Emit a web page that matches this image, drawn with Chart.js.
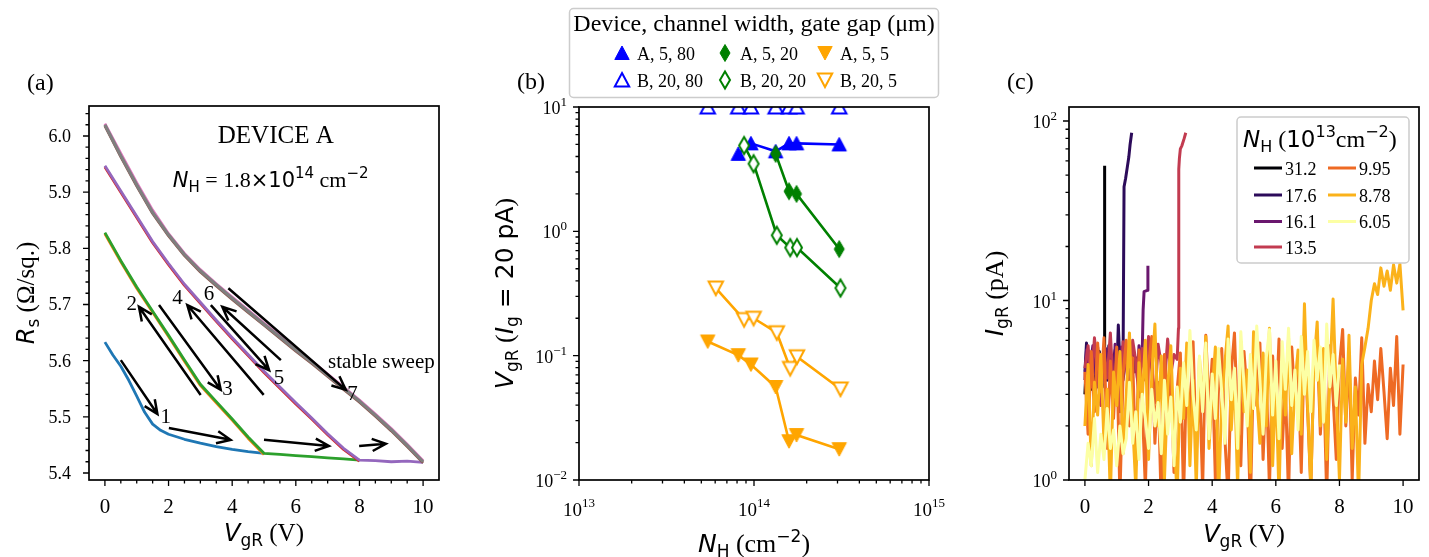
<!DOCTYPE html>
<html>
<head>
<meta charset="utf-8">
<script src="https://cdn.jsdelivr.net/npm/chart.js@4.4.1/dist/chart.umd.min.js"></script>
<style>
  html, body { margin: 0; padding: 0; background: #fff; }
  #wrap { position: relative; width: 1429px; height: 557px; overflow: hidden; background: #fff; }
  canvas { position: absolute; top: 0; }
</style>
</head>
<body>
<div id="wrap">
  <canvas id="ca" width="470" height="557" style="left:0px;width:470px;height:557px"></canvas>
  <canvas id="cb" width="490" height="557" style="left:470px;width:490px;height:557px"></canvas>
  <canvas id="cc" width="469" height="557" style="left:960px;width:469px;height:557px"></canvas>
</div>
<script>
// ---------- panel (a): R_s vs V_gR sweeps, device A ----------
const vBlue = [0, 0.25, 0.5, 0.75, 1, 1.25, 1.5, 1.75, 2, 2.5, 3, 3.5, 4, 4.5, 5];
const rBlue = [5.633, 5.61, 5.59, 5.565, 5.537, 5.508, 5.487, 5.476, 5.469, 5.46, 5.453, 5.447, 5.442, 5.438, 5.435];
const vOrange = [5, 4.5, 4, 3.5, 3, 2.5, 2, 1.5, 1, 0.5, 0];
const rOrange = [5.433, 5.462, 5.494, 5.525, 5.556, 5.599, 5.643, 5.686, 5.729, 5.776, 5.826];
const vGreen = [0, 0.5, 1, 1.5, 2, 2.5, 3, 3.5, 4, 4.5, 5, 5.5, 6, 6.5, 7, 7.5, 8];
const rGreen = [5.828, 5.778, 5.731, 5.688, 5.645, 5.601, 5.558, 5.527, 5.496, 5.464, 5.435, 5.433, 5.431, 5.429, 5.427, 5.425, 5.423];
const vRed = [8, 7.5, 7, 6.5, 6, 5.5, 5, 4.5, 4, 3.5, 3, 2.5, 2, 1.5, 1, 0.5, 0];
const rRed = [5.421, 5.442, 5.468, 5.496, 5.523, 5.551, 5.579, 5.609, 5.639, 5.67, 5.702, 5.734, 5.771, 5.81, 5.855, 5.9, 5.945];
const vPurple = [0, 0.5, 1, 1.5, 2, 2.5, 3, 3.5, 4, 4.5, 5, 5.5, 6, 6.5, 7, 7.5, 8, 8.5, 9, 9.5, 10];
const rPurple = [5.947, 5.902, 5.857, 5.812, 5.773, 5.736, 5.704, 5.672, 5.641, 5.611, 5.581, 5.553, 5.525, 5.498, 5.47, 5.444, 5.423, 5.422, 5.42, 5.421, 5.419];
const vBrown = [10, 9.5, 9, 8.5, 8, 7.5, 7, 6.5, 6, 5.5, 5, 4.5, 4, 3.5, 3, 2.5, 2, 1.5, 1, 0.5, 0];
const rBrown = [5.418, 5.447, 5.475, 5.501, 5.526, 5.549, 5.572, 5.595, 5.617, 5.64, 5.663, 5.686, 5.709, 5.733, 5.758, 5.787, 5.822, 5.862, 5.911, 5.963, 6.018];
const vPink = [0, 0.5, 1, 1.5, 2, 2.5, 3, 3.5, 4, 4.5, 5, 5.5, 6, 6.5, 7, 7.5, 8, 8.5, 9, 9.5, 10];
const rPink = [6.022, 5.969, 5.917, 5.868, 5.826, 5.791, 5.762, 5.737, 5.713, 5.69, 5.667, 5.644, 5.621, 5.599, 5.576, 5.553, 5.53, 5.505, 5.479, 5.451, 5.422];
const vGray = [10, 9.5, 9, 8.5, 8, 7.5, 7, 6.5, 6, 5.5, 5, 4.5, 4, 3.5, 3, 2.5, 2, 1.5, 1, 0.5, 0];
const rGray = [5.42, 5.449, 5.477, 5.503, 5.528, 5.551, 5.574, 5.597, 5.619, 5.642, 5.665, 5.688, 5.711, 5.735, 5.76, 5.789, 5.824, 5.864, 5.913, 5.965, 6.02];

// sweep arrows (data coordinates) and their numbers
const arrowFrom = [[0.50, 5.601], [3.01, 5.539], [1.70, 5.699], [4.99, 5.539], [3.33, 5.699], [5.53, 5.601], [3.88, 5.729], [2.01, 5.480], [5.0, 5.459], [7.99, 5.448]];
const arrowTo = [[1.65, 5.505], [1.07, 5.696], [3.64, 5.548], [2.59, 5.699], [5.16, 5.583], [3.69, 5.696], [7.57, 5.548], [3.95, 5.459], [7.04, 5.448], [8.83, 5.452]];
const sweepNames = ['1', '2', '3', '4', '5', '6', '7'];
const sweepV = [1.91, 0.84, 3.85, 2.28, 5.47, 3.27, 7.78];
const sweepR = [5.501, 5.702, 5.551, 5.714, 5.57, 5.72, 5.542];

// ---------- panel (b): V_gR at I_g = 20 pA vs N_H ----------
const nhA = [5.44e13, 8.13e13, 9.6e13, 1.33e14, 1.585e14, 1.75e14, 3.07e14];
const nhB = [6.05e13, 8.78e13, 9.95e13, 1.35e14, 1.61e14, 1.76e14, 3.12e14];
const vA80 = [null, 4.2, 5.1, 4.4, 5.1, 5.1, 5.0];
const vB80 = [10, 10, 10, 10, 10, 10, 10];
const vA20 = [null, null, null, 4.2, 2.1, 2.0, 0.72];
const vB20 = [null, 4.9, 3.5, 0.93, 0.74, 0.74, 0.35];
const vA5 = [0.13, 0.101, 0.085, 0.056, 0.0205, 0.023, 0.0177];
const vB5 = [0.35, 0.195, 0.2, 0.153, 0.079, 0.098, 0.054];
const legendB = ['A, 5, 80', 'A, 5, 20', 'A, 5, 5', 'B, 20, 80', 'B, 20, 20', 'B, 20, 5'];

// ---------- panel (c): I_gR vs V_gR for several N_H ----------
const nhLabels = ['31.2', '17.6', '16.1', '13.5', '9.95', '8.78', '6.05'];
const vC = [0,0.1,0.2,0.3,0.4,0.5,0.6,0.7,0.8,0.9,1,1.1,1.2,1.3,1.4,1.5,1.6,1.7,1.8,1.9,2,2.1,2.2,2.3,2.4,2.5,2.6,2.7,2.8,2.9,3,3.1,3.2,3.3,3.4,3.5,3.6,3.7,3.8,3.9,4,4.1,4.2,4.3,4.4,4.5,4.6,4.7,4.8,4.9,5,5.1,5.2,5.3,5.4,5.5,5.6,5.7,5.8,5.9,6,6.1,6.2,6.3,6.4,6.5,6.6,6.7,6.8,6.9,7,7.1,7.2,7.3,7.4,7.5,7.6,7.7,7.8,7.9,8,8.1,8.2,8.3,8.4,8.5,8.6,8.7,8.8,8.9,9,9.1,9.2,9.3,9.4,9.5,9.6,9.7,9.8,9.9,10];
const v312 = [0, 0.05, 0.1, 0.15, 0.2, 0.25, 0.3, 0.35, 0.4, 0.45, 0.5, 0.55, 0.6, 0.62];
const i312 = [3.0, 4.9, 3.6, 4.4, 3.2, 5.0, 3.8, 4.6, 3.4, 5.2, 4.1, 3.5, 4.8, 56.4];
const v176 = [0, 0.05, 0.1, 0.15, 0.2, 0.25, 0.3, 0.35, 0.4, 0.45, 0.5, 0.55, 0.6, 0.65, 0.7, 0.75, 0.8, 0.85, 0.9, 0.95, 1, 1.05, 1.1, 1.15, 1.2, 1.23, 1.28, 1.33, 1.38, 1.42, 1.47];
const i176 = [4.0, 5.8, 3.4, 4.6, 3.9, 5.2, 3.1, 4.4, 5.5, 3.7, 4.9, 3.3, 5.0, 4.2, 3.6, 5.6, 4.1, 3.5, 4.7, 5.3, 3.8, 7.3, 4.5, 3.6, 4.9, 43, 48, 55, 63, 74, 86];
const v161 = [0, 0.05, 0.1, 0.15, 0.2, 0.25, 0.3, 0.35, 0.4, 0.45, 0.5, 0.55, 0.6, 0.65, 0.7, 0.75, 0.8, 0.85, 0.9, 0.95, 1, 1.05, 1.1, 1.15, 1.2, 1.25, 1.3, 1.35, 1.4, 1.45, 1.5, 1.55, 1.6, 1.65, 1.7, 1.75, 1.8, 1.83, 1.86, 1.96, 1.98];
const i161 = [3.6, 5.3, 4.1, 3.2, 4.8, 5.6, 3.9, 4.4, 3.3, 5.1, 4.0, 4.7, 3.5, 5.4, 4.2, 3.7, 5.0, 4.5, 3.4, 5.7, 4.1, 3.8, 4.9, 5.5, 3.6, 4.3, 5.2, 3.9, 4.6, 3.4, 5.3, 4.0, 4.8, 3.7, 5.6, 4.4, 5.0, 8.9, 11.2, 11.4, 15.6];
const v135 = [0, 0.1, 0.2, 0.3, 0.4, 0.5, 0.6, 0.7, 0.8, 0.9, 1, 1.1, 1.2, 1.3, 1.4, 1.5, 1.6, 1.7, 1.8, 1.9, 2, 2.1, 2.2, 2.3, 2.4, 2.5, 2.6, 2.7, 2.8, 2.9, 2.94, 2.95, 2.97, 3.0, 3.05, 3.12, 3.17];
const i135 = [4.2, 5.6, 3.3, 6.2, 4.0, 2.6, 5.1, 3.7, 6.6, 3.0, 4.8, 2.4, 5.9, 4.3, 3.2, 6.0, 4.6, 2.9, 5.4, 3.6, 6.3, 4.1, 2.7, 5.7, 4.4, 3.4, 6.1, 3.9, 5.0, 4.7, 7.0, 54, 62, 70, 73, 80, 86];
const i995 = [4.0,1.8,5.2,2.4,5.8,3.1,6.2,1.5,4.6,2.2,
  5.5,0.8,3.9,6.0,2.0,4.8,1.2,5.3,2.7,0.9,
  4.4,6.3,1.6,3.5,0.7,5.0,2.3,4.1,1.1,3.2,
  5.1,0.8,4.3,2.0,5.9,1.4,3.6,0.9,6.4,2.5,
  4.7,1.0,3.3,5.4,1.7,0.8,4.0,6.6,2.1,1.2,
  5.2,3.0,0.7,4.5,2.6,5.8,1.3,3.8,0.9,4.9,
  2.2,6.1,1.5,3.4,0.8,5.5,2.8,4.2,1.1,6.4,
  2.4,0.9,4.6,6.0,1.8,3.9,0.8,5.6,2.9,1.3,
  4.3,6.9,2.0,5.1,1.0,3.7,2.3,6.2,1.6,3.4,
  2.4,4.6,2.8,5.4,3.1,1.7,4.2,2.6,6.3,1.8,4.4];
const i878 = [2.0,4.4,1.2,3.5,2.3,5.0,1.6,3.2,0.8,4.0,
  2.6,5.2,1.4,3.0,6.6,2.1,0.9,4.5,2.8,6.0,
  1.3,3.8,7.4,2.0,4.9,1.0,3.3,5.6,1.8,0.8,
  4.2,2.2,5.8,1.2,3.6,0.9,4.8,2.5,6.3,1.5,
  3.1,5.5,0.8,2.7,4.5,7.2,1.9,3.9,0.9,5.9,
  2.4,4.1,1.1,6.7,3.0,1.6,5.1,2.0,7.0,1.2,
  3.7,0.8,4.6,2.3,6.2,1.4,3.4,5.3,1.8,9.6,
  2.6,0.9,4.4,7.6,2.0,5.4,1.3,3.8,10.2,2.9,
  1.0,4.7,2.1,6.4,1.5,3.3,0.8,4.4,5.5,7.0,
  10.0,12.4,10.8,15.2,12.0,14.6,11.4,15.8,12.5,16.0,8.8];
const i605 = [1.0,1.6,1.2,2.2,1.1,1.8,1.3,2.5,1.5,1.9,
  1.2,2.0,1.4,1.7,3.5,1.6,2.4,1.3,3.0,2.2,
  1.5,3.2,2.0,2.7,1.4,3.6,1.8,2.9,1.2,3.3,
  2.1,4.5,2.6,6.8,3.0,1.9,4.9,2.4,5.8,1.7,
  3.9,2.2,5.4,3.1,1.6,6.1,2.8,4.2,1.5,6.7,
  3.4,2.0,5.0,2.5,7.2,3.6,1.8,4.8,6.9,2.3,
  4.6,1.7,5.9,3.2,7.0,2.6,4.1,1.9,6.3,3.0,
  5.2,2.4,6.0,3.6,5.5,2.1,7.4,3.3,5.0,2.6,4.4];
const nhColors = ['#000004', '#2c0b5a', '#6a176e', '#c23b50', '#ee6a24', '#fbb21a', '#fcffa4'];

// ---------- drawing helpers ----------
const SERIF = '"Liberation Serif", "Times New Roman", serif';
const SANS = '"DejaVu Sans", sans-serif';

function P(t, s, f, it, dy) { return { t: t, s: s, f: f, it: !!it, dy: dy || 0 }; }
function fnt(p) { return (p.it ? 'italic ' : '') + p.s + 'px ' + p.f; }
function rich(ctx, parts, x, y, align) {
  let w = 0;
  parts.forEach(p => { ctx.font = fnt(p); w += ctx.measureText(p.t).width; });
  let cx = align === 'center' ? x - w / 2 : (align === 'right' ? x - w : x);
  ctx.textAlign = 'left';
  ctx.textBaseline = 'alphabetic';
  parts.forEach(p => {
    ctx.font = fnt(p);
    ctx.fillText(p.t, cx, y + p.dy);
    cx += ctx.measureText(p.t).width;
  });
}
function richRot(ctx, parts, x, y) {
  ctx.save();
  ctx.translate(x, y);
  ctx.rotate(-Math.PI / 2);
  rich(ctx, parts, 0, 0, 'center');
  ctx.restore();
}
function pts(xs, ys) { return ys.map((y, i) => ({ x: xs[i], y: y })); }

function frame(ctx, a) {
  ctx.save();
  ctx.strokeStyle = '#000';
  ctx.lineWidth = 1.7;
  ctx.strokeRect(a.left, a.top, a.right - a.left, a.bottom - a.top);
  ctx.restore();
}
function ticksX(ctx, ch, vals, len) {
  const a = ch.chartArea, s = ch.scales.x;
  ctx.beginPath();
  vals.forEach(v => {
    const p = s.getPixelForValue(v);
    if (p < a.left - 0.5 || p > a.right + 0.5) return;
    ctx.moveTo(p, a.bottom); ctx.lineTo(p, a.bottom + len);
  });
  ctx.stroke();
}
function ticksY(ctx, ch, vals, len) {
  const a = ch.chartArea, s = ch.scales.y;
  ctx.beginPath();
  vals.forEach(v => {
    const p = s.getPixelForValue(v);
    if (p < a.top - 0.5 || p > a.bottom + 0.5) return;
    ctx.moveTo(a.left, p); ctx.lineTo(a.left - len, p);
  });
  ctx.stroke();
}
function logMinor(d0, d1) {
  const out = [];
  for (let d = d0; d <= d1; d++) for (let k = 2; k <= 9; k++) out.push(k * Math.pow(10, d));
  return out;
}
function arrow(ctx, x1, y1, x2, y2) {
  const ang = Math.atan2(y2 - y1, x2 - x1), L = 15, w = 0.42;
  ctx.beginPath();
  ctx.moveTo(x1, y1); ctx.lineTo(x2, y2);
  ctx.moveTo(x2 - L * Math.cos(ang - w), y2 - L * Math.sin(ang - w));
  ctx.lineTo(x2, y2);
  ctx.lineTo(x2 - L * Math.cos(ang + w), y2 - L * Math.sin(ang + w));
  ctx.stroke();
}
function makeMarker(shape, color, filled) {
  const c = document.createElement('canvas');
  c.width = 24; c.height = 24;
  const g = c.getContext('2d');
  g.beginPath();
  if (shape === 'up') { g.moveTo(12, 5); g.lineTo(19.2, 18.5); g.lineTo(4.8, 18.5); }
  else if (shape === 'down') { g.moveTo(4.8, 5.5); g.lineTo(19.2, 5.5); g.lineTo(12, 19); }
  else { g.moveTo(12, 3.5); g.lineTo(17, 12); g.lineTo(12, 20.5); g.lineTo(7, 12); }
  g.closePath();
  g.lineJoin = 'miter';
  if (filled) {
    g.fillStyle = color; g.fill();
    g.strokeStyle = color; g.lineWidth = 1; g.stroke();
  } else {
    g.fillStyle = '#fff'; g.fill();
    g.strokeStyle = color; g.lineWidth = 2; g.stroke();
  }
  return c;
}
function logLabelsY(ctx, ch, vals, exps) {
  const a = ch.chartArea, s = ch.scales.y;
  ctx.fillStyle = '#000';
  vals.forEach((v, i) => {
    const p = s.getPixelForValue(v);
    rich(ctx, [P('10', 18, SERIF), P(exps[i], 13, SERIF, false, -8)], a.left - 12, p + 7, 'right');
  });
}
function logLabelsX(ctx, ch, vals, exps) {
  const s = ch.scales.x;
  ctx.fillStyle = '#000';
  vals.forEach((v, i) => {
    const p = s.getPixelForValue(v);
    rich(ctx, [P('10', 19, SERIF), P(exps[i], 13, SERIF, false, -9)], p, 516, 'center');
  });
}
function linLabelsX(ctx, ch, vals) {
  const s = ch.scales.x;
  ctx.fillStyle = '#000';
  ctx.font = '21px ' + SERIF;
  ctx.textAlign = 'center';
  ctx.textBaseline = 'alphabetic';
  vals.forEach(v => ctx.fillText(String(v), s.getPixelForValue(v), 513));
}

const baseOpts = (pad) => ({
  responsive: false,
  maintainAspectRatio: false,
  animation: false,
  events: [],
  layout: { padding: pad },
  plugins: { legend: { display: false }, tooltip: { enabled: false }, title: { display: false } }
});
function line(data, color, width, order) {
  return { data: data, borderColor: color, backgroundColor: color, borderWidth: width, pointRadius: 0,
    tension: 0, fill: false, clip: 0, order: order, borderJoinStyle: 'round' };
}

// ---------- chart (a) ----------
const panelA = {
  id: 'panelA',
  afterDatasetsDraw(ch) {
    const ctx = ch.ctx, a = ch.chartArea, xs = ch.scales.x, ys = ch.scales.y;
    ctx.save();
    ctx.strokeStyle = '#000';
    ctx.lineWidth = 2.5;
    ctx.lineCap = 'butt';
    arrowFrom.forEach((f, i) => {
      const t = arrowTo[i];
      arrow(ctx, xs.getPixelForValue(f[0]), ys.getPixelForValue(f[1]), xs.getPixelForValue(t[0]), ys.getPixelForValue(t[1]));
    });
    ctx.fillStyle = '#000';
    ctx.font = '21px ' + SERIF;
    ctx.textAlign = 'center';
    ctx.textBaseline = 'alphabetic';
    sweepNames.forEach((n, i) => ctx.fillText(n, xs.getPixelForValue(sweepV[i]), ys.getPixelForValue(sweepR[i]) + 7));
    ctx.font = '21px ' + SERIF;
    ctx.fillText('stable sweep', xs.getPixelForValue(8.69), ys.getPixelForValue(5.598) + 6);
    ctx.font = '25px ' + SERIF;
    ctx.fillText('DEVICE A', xs.getPixelForValue(5.37), ys.getPixelForValue(6.003) + 8.5);
    rich(ctx, [P('N', 21, SANS, true), P('H', 15, SANS, false, 5), P(' = 1.8', 22, SERIF), P('\u00d710', 21, SANS),
      P('14', 15, SANS, false, -9), P(' cm', 22, SERIF), P('\u22122', 15, SANS, false, -9)],
      xs.getPixelForValue(5.21), ys.getPixelForValue(5.923) + 8, 'center');

    frame(ctx, a);
    ctx.strokeStyle = '#000';
    ctx.lineWidth = 1.3;
    const xMaj = [0, 2, 4, 6, 8, 10], xMin = [], yMaj = [5.4, 5.5, 5.6, 5.7, 5.8, 5.9, 6.0], yMin = [];
    for (let k = 1; k <= 20; k++) if (k % 4 !== 0) xMin.push(k * 0.5);
    for (let k = 0; k <= 32; k++) if (k % 5 !== 0) yMin.push(5.4 + k * 0.02);
    ticksX(ctx, ch, xMaj, 6); ticksX(ctx, ch, xMin, 3.5);
    ticksY(ctx, ch, yMaj, 6); ticksY(ctx, ch, yMin, 3.5);
    linLabelsX(ctx, ch, xMaj);
    ctx.font = '18px ' + SERIF;
    ctx.textAlign = 'right';
    yMaj.forEach(v => ctx.fillText(v.toFixed(1), a.left - 18, ys.getPixelForValue(v) + 6));

    richRot(ctx, [P('R', 24, SANS, true), P('s', 17, SANS, false, 5), P(' (\u03a9/sq.)', 25, SERIF)], 34, (a.top + a.bottom) / 2);
    rich(ctx, [P('V', 24, SANS, true), P('gR', 17, SANS, false, 5), P(' (V)', 25, SERIF)], (a.left + a.right) / 2, 541, 'center');
    ctx.font = '24px ' + SERIF;
    ctx.textAlign = 'left';
    ctx.fillText('(a)', 27, 90);
    ctx.restore();
  }
};

new Chart(document.getElementById('ca'), {
  type: 'line',
  data: {
    datasets: [
      line(pts(vBlue, rBlue), '#1f77b4', 2.8, 8),
      line(pts(vOrange, rOrange), '#ff7f0e', 2.8, 7),
      line(pts(vGreen, rGreen), '#2ca02c', 2.8, 6),
      line(pts(vRed, rRed), '#d62728', 2.8, 5),
      line(pts(vPurple, rPurple), '#9467bd', 2.8, 4),
      line(pts(vBrown, rBrown), '#8c564b', 2.8, 3),
      line(pts(vPink, rPink), '#e377c2', 2.8, 2),
      line(pts(vGray, rGray), '#7f7f7f', 3.2, 1)
    ]
  },
  options: Object.assign(baseOpts({ left: 89, top: 106, right: 31, bottom: 77 }), {
    scales: {
      x: { type: 'linear', min: -0.5, max: 10.5, display: false },
      y: { type: 'linear', min: 5.3875, max: 6.0534, display: false }
    }
  }),
  plugins: [panelA]
});

// ---------- chart (b) ----------
const mk = {
  a80: makeMarker('up', '#0000ff', true), b80: makeMarker('up', '#0000ff', false),
  a20: makeMarker('diamond', '#008000', true), b20: makeMarker('diamond', '#008000', false),
  a5: makeMarker('down', '#ffa500', true), b5: makeMarker('down', '#ffa500', false)
};
function markerSet(data, color, marker, showLine, order) {
  return { data: data, borderColor: color, backgroundColor: color, borderWidth: 2.6, showLine: showLine,
    pointStyle: marker, pointRadius: 7, tension: 0, clip: 0, order: order, spanGaps: false };
}
const panelB = {
  id: 'panelB',
  afterDraw(ch) {
    const ctx = ch.ctx, a = ch.chartArea;
    ctx.save();
    frame(ctx, a);
    ctx.strokeStyle = '#000';
    ctx.lineWidth = 1.3;
    ticksX(ctx, ch, [1e13, 1e14, 1e15], 6); ticksX(ctx, ch, logMinor(13, 14), 3.5);
    ticksY(ctx, ch, [0.01, 0.1, 1, 10], 6); ticksY(ctx, ch, logMinor(-2, 0), 3.5);
    logLabelsX(ctx, ch, [1e13, 1e14, 1e15], ['13', '14', '15']);
    logLabelsY(ctx, ch, [10, 1, 0.1, 0.01], ['1', '0', '\u22121', '\u22122']);
    richRot(ctx, [P('V', 25, SANS, true), P('gR', 17, SANS, false, 5), P(' (', 26, SERIF), P('I', 25, SANS, true),
      P('g', 17, SANS, false, 5), P(' = 20 pA', 25, SANS), P(')', 26, SERIF)], 43, (a.top + a.bottom) / 2);
    rich(ctx, [P('N', 25, SANS, true), P('H', 17, SANS, false, 5), P(' (cm', 26, SERIF), P('\u22122', 17, SANS, false, -10),
      P(')', 26, SERIF)], (a.left + a.right) / 2, 552, 'center');
    ctx.fillStyle = '#000';
    ctx.font = '24px ' + SERIF;
    ctx.textAlign = 'left';
    ctx.fillText('(b)', 47, 89);

    // legend
    ctx.beginPath();
    ctx.roundRect(99.5, 8.5, 369, 89, 4);
    ctx.fillStyle = 'rgba(255,255,255,0.8)';
    ctx.fill();
    ctx.strokeStyle = '#cccccc';
    ctx.lineWidth = 1.5;
    ctx.stroke();
    ctx.fillStyle = '#000';
    ctx.font = '24px ' + SERIF;
    ctx.textAlign = 'center';
    ctx.fillText('Device, channel width, gate gap (\u03bcm)', 284, 31);
    const marks = [mk.a80, mk.a20, mk.a5, mk.b80, mk.b20, mk.b5];
    const colX = [152, 255, 355], rowY = [53, 80];
    ctx.font = '18px ' + SERIF;
    ctx.textAlign = 'left';
    legendB.forEach((t, i) => {
      const cx = colX[i % 3], cy = rowY[Math.floor(i / 3)];
      ctx.drawImage(marks[i], cx - 12, cy - 12);
      ctx.fillText(t, cx + 15, cy + 6.5);
    });
    ctx.restore();
  }
};
new Chart(document.getElementById('cb'), {
  type: 'line',
  data: {
    datasets: [
      markerSet(pts(nhA, vA80), '#0000ff', mk.a80, true, 6),
      markerSet(pts(nhA, vB80), '#0000ff', mk.b80, false, 5),
      markerSet(pts(nhA, vA20), '#008000', mk.a20, true, 4),
      markerSet(pts(nhB, vB20), '#008000', mk.b20, true, 3),
      markerSet(pts(nhA, vA5), '#ffa500', mk.a5, true, 2),
      markerSet(pts(nhB, vB5), '#ffa500', mk.b5, true, 1)
    ]
  },
  options: Object.assign(baseOpts({ left: 109, top: 107, right: 31, bottom: 77 }), {
    scales: {
      x: { type: 'logarithmic', min: 1e13, max: 1e15, display: false },
      y: { type: 'logarithmic', min: 0.01, max: 10, display: false }
    }
  }),
  plugins: [panelB]
});

// ---------- chart (c) ----------
const panelC = {
  id: 'panelC',
  afterDraw(ch) {
    const ctx = ch.ctx, a = ch.chartArea;
    ctx.save();
    frame(ctx, a);
    ctx.strokeStyle = '#000';
    ctx.lineWidth = 1.3;
    ticksX(ctx, ch, [0, 2, 4, 6, 8, 10], 6);
    ticksY(ctx, ch, [1, 10, 100], 6); ticksY(ctx, ch, logMinor(0, 1), 3.5);
    linLabelsX(ctx, ch, [0, 2, 4, 6, 8, 10]);
    logLabelsY(ctx, ch, [100, 10, 1], ['2', '1', '0']);
    richRot(ctx, [P('I', 25, SANS, true), P('gR', 17, SANS, false, 5), P(' (pA)', 26, SERIF)], 43, (a.top + a.bottom) / 2);
    rich(ctx, [P('V', 24, SANS, true), P('gR', 17, SANS, false, 5), P(' (V)', 26, SERIF)], (a.left + a.right) / 2, 542, 'center');
    ctx.fillStyle = '#000';
    ctx.font = '24px ' + SERIF;
    ctx.textAlign = 'left';
    ctx.fillText('(c)', 47, 89);

    // legend
    ctx.beginPath();
    ctx.roundRect(277, 117, 172, 146, 4);
    ctx.fillStyle = 'rgba(255,255,255,0.8)';
    ctx.fill();
    ctx.strokeStyle = '#cccccc';
    ctx.lineWidth = 1.5;
    ctx.stroke();
    ctx.fillStyle = '#000';
    rich(ctx, [P('N', 23, SANS, true), P('H', 16, SANS, false, 5), P(' (', 24, SERIF), P('10', 23, SANS),
      P('13', 16, SANS, false, -10), P('cm', 24, SERIF), P('\u22122', 16, SANS, false, -10), P(')', 24, SERIF)], 283, 147, 'left');
    const rows = [168, 195, 221.5, 247];
    ctx.lineWidth = 3;
    ctx.font = '18px ' + SERIF;
    ctx.textAlign = 'left';
    nhLabels.forEach((t, i) => {
      const col = i < 4 ? 0 : 1, y = rows[i < 4 ? i : i - 4];
      const x0 = col === 0 ? 294 : 368;
      ctx.strokeStyle = nhColors[i];
      ctx.beginPath(); ctx.moveTo(x0, y); ctx.lineTo(x0 + 28, y); ctx.stroke();
      ctx.fillStyle = '#000';
      ctx.fillText(t, x0 + 31, y + 6.5);
    });
    ctx.restore();
  }
};
new Chart(document.getElementById('cc'), {
  type: 'line',
  data: {
    datasets: [
      line(pts(v312, i312), nhColors[0], 3, 7),
      line(pts(v176, i176), nhColors[1], 3, 6),
      line(pts(v161, i161), nhColors[2], 3, 5),
      line(pts(v135, i135), nhColors[3], 3, 4),
      line(pts(vC, i995), nhColors[4], 3, 3),
      line(pts(vC, i878), nhColors[5], 3, 2),
      line(pts(vC, i605), nhColors[6], 3, 1)
    ]
  },
  options: Object.assign(baseOpts({ left: 109, top: 107, right: 10, bottom: 77 }), {
    scales: {
      x: { type: 'linear', min: -0.5, max: 10.5, display: false },
      y: { type: 'logarithmic', min: 1, max: 119.7, display: false }
    }
  }),
  plugins: [panelC]
});
</script>
</body>
</html>
